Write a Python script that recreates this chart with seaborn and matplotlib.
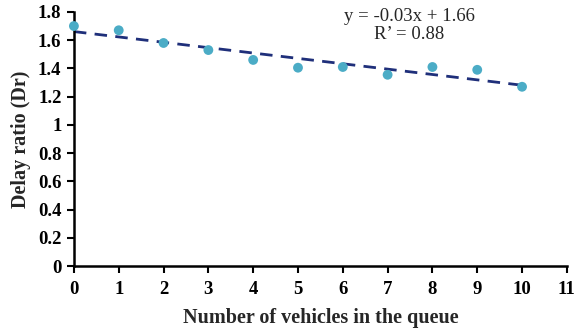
import matplotlib
matplotlib.use("Agg")
import matplotlib.pyplot as plt
import seaborn as sns
import pandas as pd

# Delay ratio measured for each queue length
vehicles = [0, 1, 2, 3, 4, 5, 6, 7, 8, 9, 10]
delay_ratio = [1.70, 1.67, 1.58, 1.53, 1.46, 1.405, 1.41, 1.355, 1.41, 1.39, 1.27]
x_ticks = list(range(0, 12))
y_ticks = [0, 0.2, 0.4, 0.6, 0.8, 1.0, 1.2, 1.4, 1.6, 1.8]
y_tick_labels = ["0", "0.2", "0.4", "0.6", "0.8", "1", "1.2", "1.4", "1.6", "1.8"]
equation_text = "y = -0.03x + 1.66\nR\u2019 = 0.88"

df = pd.DataFrame({"vehicles": vehicles, "delay": delay_ratio})

sns.set_style("ticks")
plt.rcParams["font.family"] = ["Liberation Serif", "DejaVu Serif"]

fig = plt.figure(figsize=(5.82, 3.31), dpi=100)
ax = fig.add_axes([0.127, 0.196, 0.847, 0.768])

# Linear trend line (dashed) fitted to the points
sns.regplot(data=df, x="vehicles", y="delay", ax=ax, ci=None, scatter=False,
            line_kws=dict(color="#1F2F7A", lw=2.0, ls=(0, (4.5, 3)), zorder=2))
# Measured points
sns.scatterplot(data=df, x="vehicles", y="delay", ax=ax, color="#4BACC6",
                s=50, edgecolor="none", zorder=3, clip_on=False)

ax.set_xlim(0, 11)
ax.set_ylim(0, 1.8)
ax.set_xticks(x_ticks)
ax.set_yticks(y_ticks)
ax.set_yticklabels(y_tick_labels)
for lbl in ax.get_xticklabels() + ax.get_yticklabels():
    lbl.set_fontweight("bold")
    lbl.set_fontsize(13.5)

ax.tick_params(axis="both", direction="out", length=5, width=1.5, colors="black", pad=4)
ax.tick_params(axis="x", pad=6)
for side in ("left", "bottom"):
    ax.spines[side].set_linewidth(1.8)
    ax.spines[side].set_color("black")
sns.despine(ax=ax)

ax.set_xlabel("Number of vehicles in the queue", fontsize=14.5, fontweight="bold", labelpad=7)
ax.set_ylabel("Delay ratio (Dr)", fontsize=14.5, fontweight="bold", labelpad=5)

ax.text(7.48, 1.825, equation_text, ha="center", va="top", fontsize=13.5,
        linespacing=1.05, color="#262626", clip_on=False)

fig.savefig("out.png", dpi=100)
